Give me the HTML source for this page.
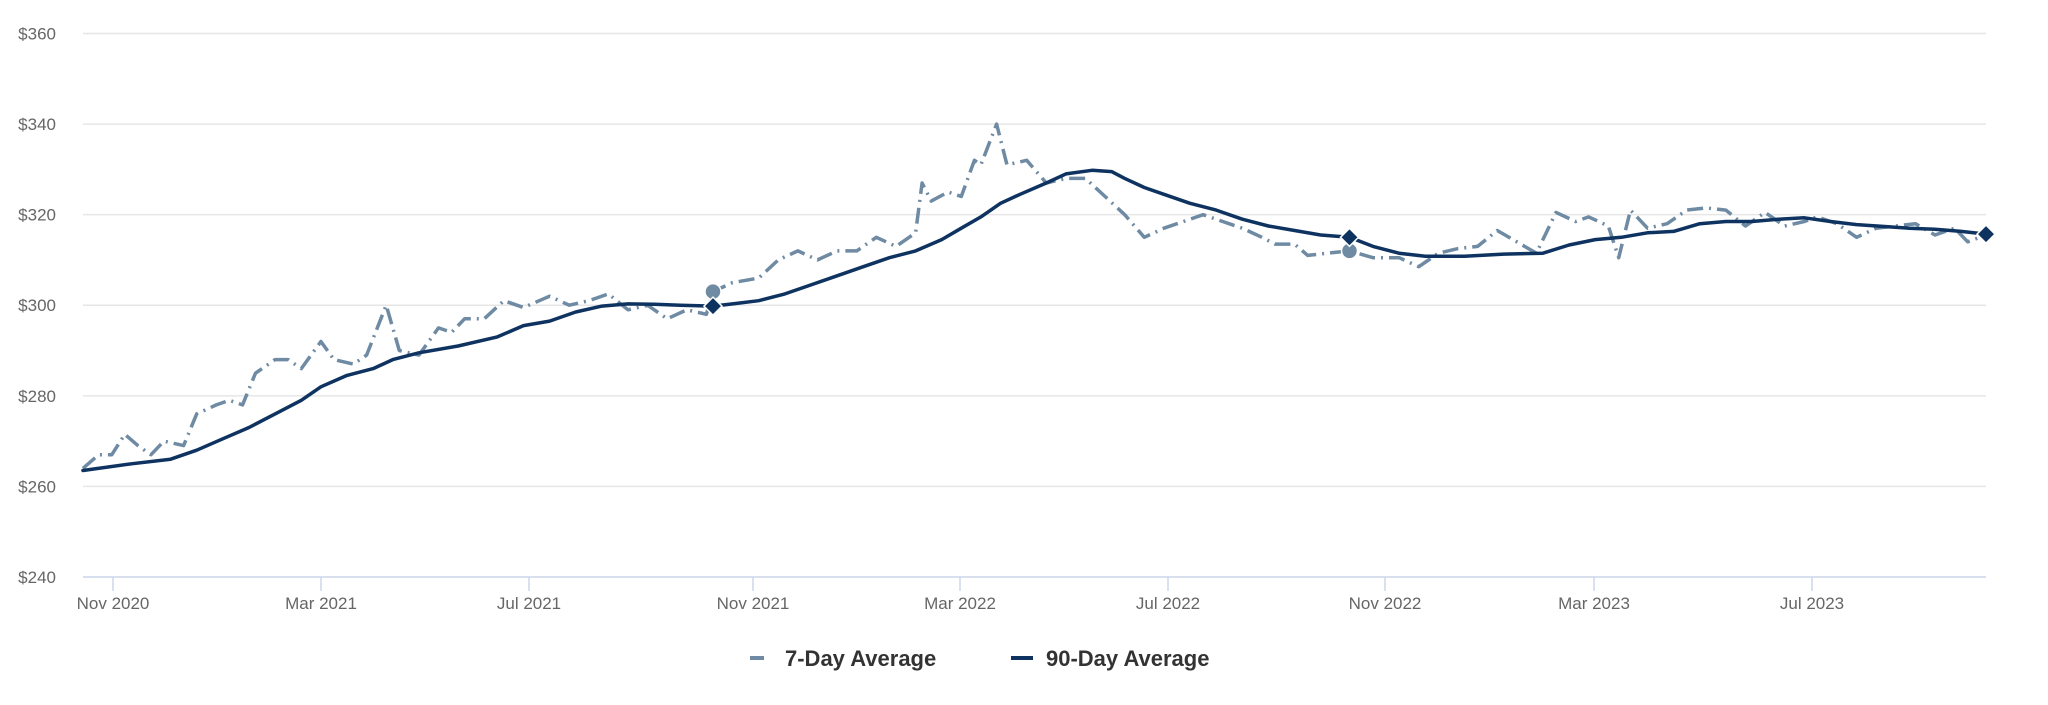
<!DOCTYPE html>
<html><head><meta charset="utf-8"><style>
html,body{margin:0;padding:0;background:#fff;width:2048px;height:705px;overflow:hidden}
svg{display:block}
text{font-family:"Liberation Sans",Arial,sans-serif}
</style></head><body>
<svg id="c" width="2048" height="705" xmlns="http://www.w3.org/2000/svg"></svg>
<script>
const s=document.getElementById('c');
const X=p=>83+(p-63)*1.307, Y=v=>33.5+(360-v)*4.529;
let h='';
[360,340,320,300,280,260].forEach(v=>{h+=`<line x1="83" x2="1986" y1="${Y(v)}" y2="${Y(v)}" stroke="#e6e6e6" stroke-width="1.5"/>`;});
h+=`<line x1="83" x2="1986" y1="${Y(240)}" y2="${Y(240)}" stroke="#ccd6eb" stroke-width="1.5"/>`;
[360,340,320,300,280,260,240].forEach(v=>{h+=`<text x="56" y="${Y(v)+6}" text-anchor="end" font-size="17" fill="#666">$${v}</text>`;});
[[113,'Nov 2020'],[321,'Mar 2021'],[529,'Jul 2021'],[753,'Nov 2021'],[960,'Mar 2022'],[1168,'Jul 2022'],[1385,'Nov 2022'],[1594,'Mar 2023'],[1812,'Jul 2023']].forEach(([x,t])=>{
h+=`<line x1="${x}" x2="${x}" y1="${Y(240)}" y2="${Y(240)+14}" stroke="#ccd6eb" stroke-width="1.5"/><text x="${x}" y="609" text-anchor="middle" font-size="17" fill="#666">${t}</text>`;});
const a=[63,264,75,267,85,267,95,271.5,105,269,115,267,125,270,140,269,150,276,165,278,175,279,185,278,195,285,210,288,220,288,230,286,245,292,255,288,270,287,280,289,295,300,305,290,320,289,335,295,345,294,355,297,370,297,385,301,400,299.5,420,302,435,300,450,301,465,302.5,480,299,495,300,510,297,525,299,540,298,545,303,560,305,580,306,595,310,610,312,625,310,640,312,655,312,670,315,685,313,700,316,705,327,712,323,725,325,735,324,745,332,750,331,762,340,770,331,785,332,800,327,815,328,830,328,845,324,860,320,875,315,890,317,905,318.5,920,320,935,318.5,950,317,965,315,975,313.5,990,313.5,1000,311,1015,311.5,1032,312,1050,310.5,1070,310.5,1085,308.5,1100,311.5,1115,312.5,1130,313,1145,316.5,1160,314,1175,311.5,1190,320.5,1205,318.5,1215,319.5,1230,317.5,1238,310.5,1247,321,1260,317,1275,318,1290,321,1305,321.5,1320,321,1335,317.5,1350,320.5,1365,317.5,1380,318.5,1390,319.5,1405,318,1420,315,1435,317,1450,317.5,1465,318,1480,315.5,1495,317,1505,314,1519,315.5];
const b=[63,263.5,100,265,130,266,150,268,170,270.5,190,273,210,276,230,279,245,282,265,284.5,285,286,300,288,320,289.5,350,291,380,293,400,295.5,420,296.5,440,298.5,460,299.8,480,300.3,500,300.2,520,300,545,299.8,560,300.3,580,301,600,302.5,620,304.5,640,306.5,660,308.5,680,310.5,700,312,720,314.5,735,317,750,319.5,765,322.5,780,324.5,800,327,815,329,835,329.8,850,329.5,860,328,875,326,890,324.5,910,322.5,930,321,950,319,970,317.5,990,316.5,1010,315.5,1032,315,1050,313,1070,311.5,1090,310.8,1120,310.8,1150,311.3,1180,311.5,1200,313.3,1220,314.5,1240,315,1260,316,1280,316.3,1300,318,1320,318.5,1340,318.5,1360,319,1380,319.3,1400,318.5,1420,317.8,1440,317.4,1460,317,1480,316.8,1500,316.3,1519,315.7];
const P=d=>{let r='';for(let i=0;i<d.length;i+=2)r+=(i?'L':'M')+X(d[i]).toFixed(1)+' '+Y(d[i+1]).toFixed(1);return r;};
h+=`<path d="${P(a)}" fill="none" stroke="#6f8aa3" stroke-width="3.5" stroke-linejoin="round" stroke-dasharray="16,6,2,6"/>`;
h+=`<path d="${P(b)}" fill="none" stroke="#0e3360" stroke-width="3.5" stroke-linejoin="round" stroke-linecap="round"/>`;
[[545,303],[1032,312]].forEach(([x,v])=>{h+=`<circle cx="${X(x)}" cy="${Y(v)}" r="8" fill="#6f8aa3" stroke="#fff" stroke-width="1.5"/>`;});
[[545,299.8],[1032,315],[1519,315.7]].forEach(([x,v])=>{const cx=X(x),cy=Y(v);h+=`<path d="M${cx} ${cy-9}L${cx+9} ${cy}L${cx} ${cy+9}L${cx-9} ${cy}Z" fill="#0e3360" stroke="#fff" stroke-width="1.5"/>`;});
h+=`<line x1="750" x2="764" y1="658" y2="658" stroke="#6f8aa3" stroke-width="4"/><text x="785" y="666" font-size="22" font-weight="bold" fill="#333">7-Day Average</text>`;
h+=`<line x1="1011" x2="1033" y1="658" y2="658" stroke="#0e3360" stroke-width="4"/><text x="1046" y="666" font-size="22" font-weight="bold" fill="#333">90-Day Average</text>`;
s.innerHTML=h;
</script>
</body></html>
